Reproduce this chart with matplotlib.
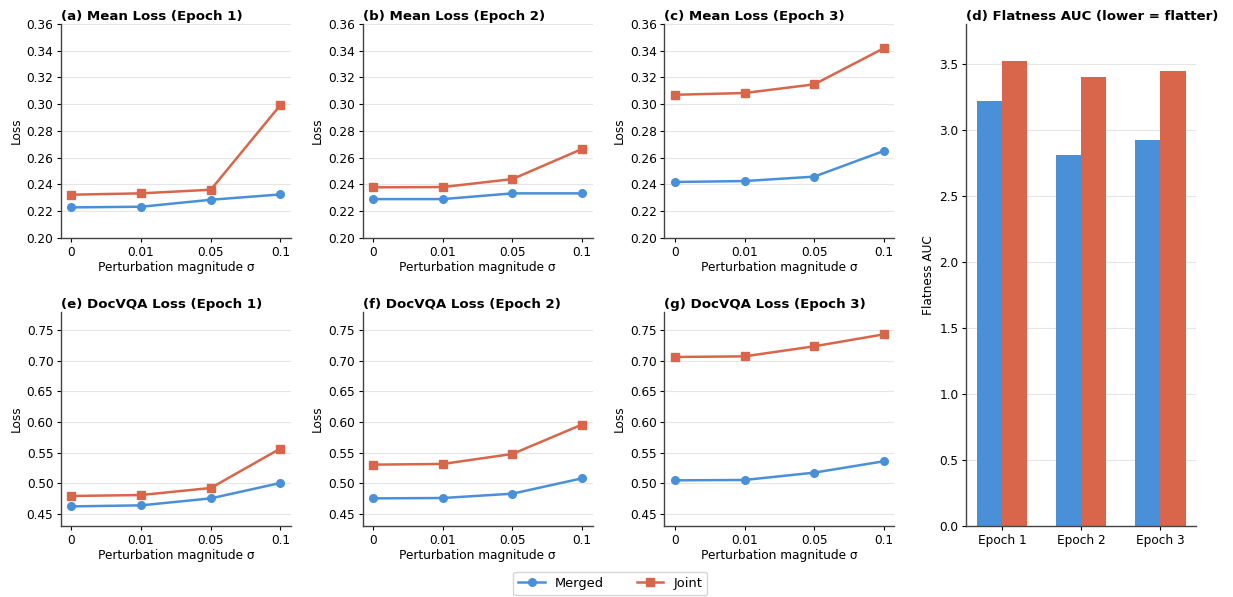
import numpy as np
import matplotlib
matplotlib.use("Agg")
import matplotlib.pyplot as plt
from matplotlib.gridspec import GridSpec

# ─── Data ─────────────────────────────────────────────────────────────────────

sigma_labels = ["0", "0.01", "0.05", "0.1"]
epoch_labels = ["Epoch 1", "Epoch 2", "Epoch 3"]

mean_merged = [
    [0.2228, 0.2233, 0.2285, 0.2325],
    [0.2290, 0.2290, 0.2333, 0.2333],
    [0.2418, 0.2425, 0.2458, 0.2650],
]
mean_joint = [
    [0.2323, 0.2333, 0.2360, 0.2993],
    [0.2378, 0.2380, 0.2440, 0.2665],
    [0.3070, 0.3083, 0.3148, 0.3418],
]
docvqa_merged = [
    [0.4620, 0.4637, 0.4751, 0.5003],
    [0.4751, 0.4757, 0.4828, 0.5079],
    [0.5046, 0.5052, 0.5172, 0.5358],
]
docvqa_joint = [
    [0.4790, 0.4806, 0.4921, 0.5566],
    [0.5303, 0.5314, 0.5478, 0.5959],
    [0.7063, 0.7074, 0.7238, 0.7434],
]
auc_merged = [3.22, 2.81, 2.92]
auc_joint = [3.52, 3.40, 3.44]

# ─── Style ────────────────────────────────────────────────────────────────────

BLUE = "#4A90D9"
RED = "#D9664A"
TICK_FS = 8.7
LABEL_FS = 8.7
TITLE_FS = 9.6

plt.rcParams["font.family"] = "DejaVu Sans"
plt.rcParams["font.size"] = TICK_FS

fig = plt.figure(figsize=(12.33, 5.97), dpi=100)
gs = GridSpec(2, 4, figure=fig, left=0.0495, right=0.970, top=0.960, bottom=0.119,
              wspace=0.313, hspace=0.346)


def style_axes(ax):
    ax.spines["top"].set_visible(False)
    ax.spines["right"].set_visible(False)
    for s in ("left", "bottom"):
        ax.spines[s].set_color("#444444")
        ax.spines[s].set_linewidth(1.0)
    ax.yaxis.grid(True, color="#e6e6e6", linewidth=0.8)
    ax.set_axisbelow(True)
    ax.tick_params(labelsize=TICK_FS, length=3, pad=2.5)


x = np.arange(len(sigma_labels))
letters_top = ["a", "b", "c"]
letters_bot = ["e", "f", "g"]

for i in range(3):
    ax = fig.add_subplot(gs[0, i])
    ax.plot(x, mean_merged[i], color=BLUE, marker="o", markersize=5.5, linewidth=1.8, label="Merged")
    ax.plot(x, mean_joint[i], color=RED, marker="s", markersize=5.5, linewidth=1.8, label="Joint")
    ax.set_xticks(x)
    ax.set_xticklabels(sigma_labels)
    ax.set_ylim(0.20, 0.36)
    yt = np.arange(0.20, 0.361, 0.02)
    ax.set_yticks(yt)
    ax.set_yticklabels([f"{v:.2f}" for v in yt])
    ax.set_xlabel("Perturbation magnitude σ", fontsize=LABEL_FS, labelpad=2)
    ax.set_ylabel("Loss", fontsize=LABEL_FS, labelpad=3)
    ax.set_title(f"({letters_top[i]}) Mean Loss (Epoch {i + 1})", loc="left",
                 fontweight="bold", fontsize=TITLE_FS, pad=3)
    style_axes(ax)
    if i == 0:
        handles, labels = ax.get_legend_handles_labels()

for i in range(3):
    ax = fig.add_subplot(gs[1, i])
    ax.plot(x, docvqa_merged[i], color=BLUE, marker="o", markersize=5.5, linewidth=1.8)
    ax.plot(x, docvqa_joint[i], color=RED, marker="s", markersize=5.5, linewidth=1.8)
    ax.set_xticks(x)
    ax.set_xticklabels(sigma_labels)
    ax.set_ylim(0.43, 0.78)
    yt = np.arange(0.45, 0.751, 0.05)
    ax.set_yticks(yt)
    ax.set_yticklabels([f"{v:.2f}" for v in yt])
    ax.set_xlabel("Perturbation magnitude σ", fontsize=LABEL_FS, labelpad=2)
    ax.set_ylabel("Loss", fontsize=LABEL_FS, labelpad=3)
    ax.set_title(f"({letters_bot[i]}) DocVQA Loss (Epoch {i + 1})", loc="left",
                 fontweight="bold", fontsize=TITLE_FS, pad=3)
    style_axes(ax)

# ─── Flatness AUC bars ────────────────────────────────────────────────────────

axd = fig.add_subplot(gs[:, 3])
xe = np.arange(len(epoch_labels))
width = 0.32
axd.bar(xe - width / 2, auc_merged, width, color=BLUE)
axd.bar(xe + width / 2, auc_joint, width, color=RED)
axd.set_xticks(xe)
axd.set_xticklabels(epoch_labels)
axd.set_ylim(0, 3.8)
axd.set_ylabel("Flatness AUC", fontsize=LABEL_FS, labelpad=3)
axd.set_title("(d) Flatness AUC (lower = flatter)", loc="left", fontweight="bold",
              fontsize=TITLE_FS, pad=3)
style_axes(axd)

fig.legend(handles, labels, loc="lower center", ncol=2, bbox_to_anchor=(0.495, -0.008),
           fontsize=9.4, frameon=True, columnspacing=2.5)

fig.savefig("out.png", dpi=100)
